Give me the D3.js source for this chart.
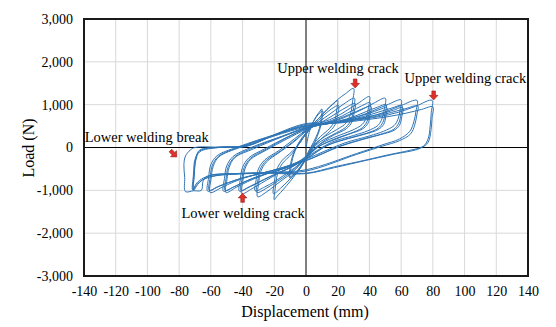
<!DOCTYPE html>
<html><head><meta charset="utf-8">
<script src="https://cdn.jsdelivr.net/npm/d3@7"></script>
<style>
html,body{margin:0;padding:0;background:#fff;}
svg text{font-family:"Liberation Serif","Times New Roman",serif;fill:#000;}
</style></head>
<body><svg id="c" width="556" height="327"></svg>
<script>
// ---- data ----
const xTicks = [-140,-120,-100,-80,-60,-40,-20,0,20,40,60,80,100,120,140];
const yTicks = [-3000,-2000,-1000,0,1000,2000,3000];
const xLabel = "Displacement (mm)";
const yLabel = "Load (N)";
// hysteresis cycles: [displacement (mm), load (N)] vertices, in loading order
const cycles = [
 [[0,0],[2,350],[4,560],[6.5,730],[8.5,830],[10,900],[9.6,700],[8.5,450],[6,220],[3,0],[0,-220],[-2.5,-420],[-5,-560],[-7.5,-650],[-10,-720],[-9.6,-500],[-8.5,-260],[-6,0],[-3,180],[0,300]],
 [[2.5,450],[5,620],[7.5,760],[10.5,850],[10,640],[8.5,400],[5.5,120],[2.5,-130],[0,-280],[-3,-450],[-6,-580],[-8.5,-650],[-10.5,-690],[-10,-450],[-8.5,-200],[-5.5,50],[-2.5,230],[0,340]],
 [[3,480],[7,640],[11,800],[15,950],[18,1040],[20,1100],[19.4,880],[18,620],[15,450],[9,250],[3,0],[0,-230],[-4,-480],[-8,-700],[-12,-880],[-16,-1050],[-18.5,-1150],[-20,-1220],[-19.4,-950],[-18,-620],[-15,-380],[-9,-150],[-4,100],[0,320]],
 [[4,480],[8,640],[12,780],[16,900],[20.5,980],[19.9,760],[18.5,540],[15,380],[9,180],[3,-60],[0,-260],[-4,-470],[-8,-650],[-12,-810],[-16,-950],[-20.5,-1080],[-19.9,-800],[-18.5,-520],[-15,-300],[-9,-100],[-3,150],[0,350]],
 [[5,560],[10,760],[15,950],[20,1120],[25,1260],[30,1380],[29.4,1080],[28,780],[25.5,580],[20,430],[12,260],[5,60],[0,-220],[-5,-450],[-10,-620],[-15,-760],[-20,-900],[-25,-1040],[-30.5,-1150],[-29.9,-850],[-28.5,-560],[-25,-340],[-17,-120],[-7,150],[0,380]],
 [[6,540],[12,700],[18,860],[24,1020],[30.5,1150],[29.9,900],[28.5,650],[25,470],[17,300],[7,80],[0,-240],[-6,-460],[-12,-640],[-18,-790],[-24,-930],[-31,-1050],[-30.4,-780],[-29,-520],[-25,-300],[-16,-80],[-6,200],[0,400]],
 [[7,530],[14,680],[20,820],[26,950],[31,1030],[30.4,820],[29,600],[25.5,440],[17,280],[8,60],[0,-250],[-7,-470],[-14,-650],[-20,-800],[-26,-920],[-32,-1010],[-31.4,-750],[-30,-500],[-26,-290],[-17,-70],[-7,210],[0,410]],
 [[8,560],[15,650],[22,780],[28,920],[34,1060],[40,1190],[39.4,930],[38,700],[35.5,540],[29,400],[20,270],[10,100],[0,-200],[-8,-430],[-15,-560],[-22,-700],[-28,-830],[-34,-960],[-40.5,-1080],[-39.9,-800],[-38.5,-500],[-35,-280],[-25,-60],[-12,200],[0,420]],
 [[9,540],[16,630],[23,740],[29,860],[35,970],[40.5,1050],[39.9,830],[38.5,610],[35.5,460],[28,330],[18,200],[8,20],[0,-230],[-8,-440],[-16,-570],[-23,-690],[-29,-800],[-35,-910],[-41,-1000],[-40.4,-750],[-39,-470],[-35,-250],[-25,-40],[-12,230],[0,440]],
 [[9,530],[17,620],[24,720],[31,830],[36,910],[41,960],[40.4,760],[39,560],[35.5,430],[27,310],[17,170],[7,0],[0,-250],[-9,-450],[-17,-580],[-24,-700],[-30,-810],[-36,-920],[-42,-1020],[-41.4,-740],[-40,-460],[-36,-240],[-26,-30],[-12,240],[0,445]],
 [[10,560],[20,640],[28,760],[36,900],[43,1040],[50,1150],[49.4,900],[48,680],[45.5,520],[39,390],[30,280],[16,120],[0,-230],[-12,-460],[-22,-580],[-30,-690],[-37,-800],[-44,-930],[-50.5,-1050],[-49.9,-760],[-48.5,-470],[-45,-240],[-33,-30],[-15,250],[0,450]],
 [[11,540],[21,620],[30,720],[38,840],[45,940],[50.5,1000],[49.9,800],[48.5,590],[45.5,450],[38,330],[28,230],[14,60],[0,-260],[-12,-470],[-23,-590],[-32,-700],[-39,-810],[-45,-910],[-51,-1000],[-50.4,-720],[-49,-440],[-45,-220],[-33,0],[-15,260],[0,460]],
 [[11,540],[22,620],[32,710],[40,800],[46,880],[51,930],[50.4,740],[49,540],[45.5,420],[37,310],[27,210],[13,40],[0,-270],[-13,-480],[-24,-600],[-33,-710],[-40,-820],[-46,-930],[-52,-1020],[-51.4,-720],[-50,-430],[-46,-210],[-34,10],[-15,265],[0,465]],
 [[12,560],[24,640],[34,740],[43,870],[52,1010],[60,1110],[59.4,880],[58,660],[55.5,510],[49,380],[40,270],[24,100],[0,-270],[-16,-480],[-28,-600],[-38,-700],[-46,-810],[-53,-930],[-60.5,-1050],[-59.9,-740],[-58.5,-440],[-55,-220],[-41,10],[-20,270],[0,480]],
 [[13,550],[25,630],[36,720],[46,830],[54,920],[60.5,980],[59.9,780],[58.5,570],[55.5,430],[48,320],[38,220],[22,40],[0,-300],[-16,-490],[-29,-610],[-40,-710],[-48,-810],[-55,-910],[-61,-1000],[-60.4,-700],[-59,-410],[-55,-200],[-41,20],[-20,290],[0,500]],
 [[13,550],[26,630],[38,710],[48,790],[55,870],[61,930],[60.4,720],[59,520],[55.5,400],[47,300],[37,200],[21,20],[0,-310],[-17,-500],[-30,-620],[-41,-720],[-49,-820],[-56,-920],[-62,-1020],[-61.4,-700],[-60,-400],[-56,-190],[-42,25],[-20,295],[0,505]],
 [[14,560],[28,640],[40,720],[50,830],[60,980],[70,1100],[69.4,860],[68,600],[65.5,380],[59,200],[48,60],[32,-140],[0,-520],[-22,-580],[-42,-610],[-56,-650],[-64,-730],[-68,-850],[-71,-1000],[-70.5,-650],[-69.5,-300],[-67,-100],[-55,0],[-38,30],[-20,280],[0,520]],
 [[15,560],[30,640],[43,720],[54,820],[63,910],[70.5,970],[69.9,760],[68.5,520],[66,320],[59,160],[48,30],[32,-160],[0,-550],[-22,-590],[-42,-620],[-57,-660],[-65,-750],[-69,-870],[-71.5,-980],[-71,-640],[-70,-280],[-67,-80],[-55,10],[-38,40],[-20,290],[0,540]],
 [[16,570],[32,640],[46,720],[58,820],[69,960],[79.5,1100],[79,820],[78.3,500],[77,200],[74,30],[65,-70],[52,-170],[38,-290],[18,-450],[0,-600],[-25,-590],[-45,-610],[-60,-650],[-66,-740],[-69.5,-860],[-71,-1000],[-70.5,-640],[-69.5,-260],[-67,-60],[-55,0],[-38,20],[-20,300],[0,560]],
 [[17,560],[34,630],[50,710],[63,800],[73,890],[80,950],[79.5,700],[78.8,400],[77,120],[72,-20],[55,-160],[38,-300],[18,-470],[0,-610],[-25,-600],[-45,-610],[-58,-630],[-63,-690],[-65,-800],[-66,-1000],[-71,-1010],[-76,-1030],[-76.5,-700],[-77,-400],[-76,-200],[-73,-60],[-70,0],[-55,10],[-40,20]]
];
const noteText = ["Upper welding crack","Upper welding crack","Lower welding break","Lower welding crack"];
const noteLabelAt = [[20.2,1850],[100.5,1620],[-100.5,245],[-39.7,-1520]];
// arrow tips [displacement, load] and direction
const noteArrowTip = [[31,1390],[80.5,1110],[-81.5,-220],[-40,-1070]];
const noteArrowDir = ["down","down","diag","up"];

// ---- drawing ----
const svg = d3.select("#c");
const L = 84, R = 528, T = 19, B = 276;
const x = d3.scaleLinear().domain([-140,140]).range([L,R]);
const y = d3.scaleLinear().domain([-3000,3000]).range([B,T]);

// grid
svg.append("g").selectAll("line").data(xTicks.filter(v=>v!==0)).join("line")
  .attr("x1",d=>x(d)).attr("x2",d=>x(d)).attr("y1",T).attr("y2",B)
  .attr("stroke","#d9d9d9").attr("stroke-width",1);
svg.append("g").selectAll("line").data(yTicks.filter(v=>v!==0)).join("line")
  .attr("y1",d=>y(d)).attr("y2",d=>y(d)).attr("x1",L).attr("x2",R)
  .attr("stroke","#d9d9d9").attr("stroke-width",1);

// zero axes
svg.append("line").attr("x1",L).attr("x2",R).attr("y1",y(0)).attr("y2",y(0)).attr("stroke","#000").attr("stroke-width",1);
svg.append("line").attr("x1",x(0)).attr("x2",x(0)).attr("y1",T).attr("y2",B).attr("stroke","#000").attr("stroke-width",1);

// curves
const line = d3.line().x(d=>x(d[0])).y(d=>y(d[1])).curve(d3.curveCatmullRom.alpha(0.5));
const allPts = [];
cycles.forEach(c=>c.forEach(p=>allPts.push(p)));
svg.append("path").datum(allPts).attr("d",line)
  .attr("fill","none").attr("stroke","#2E75B6").attr("stroke-width",1).attr("stroke-linejoin","round");

// frame
svg.append("rect").attr("x",L).attr("y",T).attr("width",R-L).attr("height",B-T)
  .attr("fill","none").attr("stroke","#1a1a1a").attr("stroke-width",2);

// axes tick labels via d3 axes
const hy = s => s.replace(/\u2212/g,"-");
const xAxis = d3.axisBottom(x).tickValues(xTicks).tickSize(0).tickPadding(10).tickFormat(d=>hy(d3.format("d")(d)));
const gx = svg.append("g").attr("transform",`translate(0,${B})`).call(xAxis);
gx.select(".domain").remove();
gx.selectAll("text").attr("font-size","14px").attr("fill","#000");
const yAxis = d3.axisLeft(y).tickValues(yTicks).tickSize(0).tickPadding(11).tickFormat(d=>hy(d3.format(",")(d)));
const gy = svg.append("g").attr("transform",`translate(${L},0)`).call(yAxis);
gy.select(".domain").remove();
gy.selectAll("text").attr("font-size","14px").attr("fill","#000");

svg.append("text").attr("x",305).attr("y",317).attr("text-anchor","middle").attr("font-size","16px").text(xLabel);
svg.append("text").attr("transform","translate(34,148) rotate(-90)").attr("text-anchor","middle").attr("font-size","16px").text(yLabel);

// annotations
noteText.forEach((t,i)=>{
  svg.append("text").attr("x",x(noteLabelAt[i][0])).attr("y",y(noteLabelAt[i][1])).attr("dy","0.35em")
    .attr("text-anchor","middle").attr("font-size","14.5px").text(t);
});
// block arrow pointing down, tip at (0,0)
const arrowShape = "M-1.8,-9 L1.8,-9 L1.8,-4.6 L4.3,-4.6 L0,0 L-4.3,-4.6 L-1.8,-4.6 Z";
const rot = {down:0, up:180, diag:-45};
noteArrowTip.forEach((p,i)=>{
  svg.append("path").attr("d",arrowShape)
    .attr("transform",`translate(${x(p[0])},${y(p[1])}) rotate(${rot[noteArrowDir[i]]})`)
    .attr("fill","#e0302a").attr("stroke","#9b1a16").attr("stroke-width",0.6);
});
</script></body></html>
